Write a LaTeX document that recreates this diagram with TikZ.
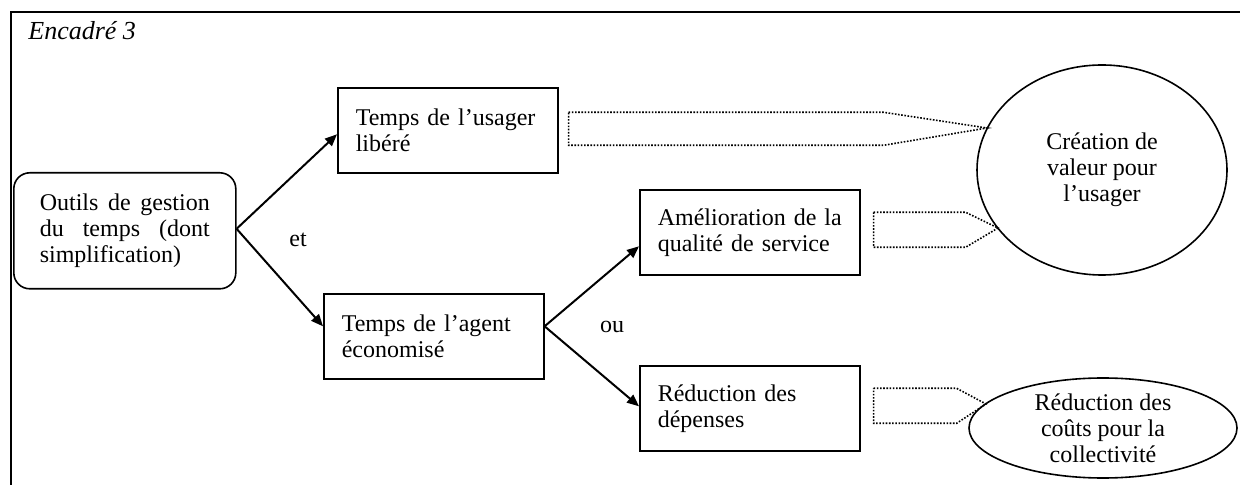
\documentclass[tikz,border=0pt]{standalone}
\usepackage{fontspec}
\setmainfont{Liberation Serif}
\usetikzlibrary{shapes.geometric, arrows.meta, positioning, calc}
\tikzstyle{arrow} = [line width=1pt,-{Triangle[length=6pt,width=5pt]}]
\tikzstyle{box} = [rectangle, draw=black, line width=0.8pt, text width=92pt, inner xsep=9pt, minimum height=42.5pt, align=left]
\tikzstyle{toolbox} = [rectangle, rounded corners=8pt, draw=black, line width=0.8pt, text width=85pt, inner xsep=13pt, minimum height=58pt, align=justify]
\tikzstyle{goal} = [ellipse, draw=black, line width=0.8pt, align=center, inner sep=0pt]
\tikzstyle{hollow} = [line width=0.8pt, dash pattern=on 0.8pt off 0.8pt]

\begin{document}
\begin{tikzpicture}[x=0.5pt, y=-0.5pt, font={\fontsize{12pt}{13pt}\selectfont}]
    \useasboundingbox (0,0) rectangle (1240,485);
    % Frame
    \draw[line width=1pt] (1240,12) -- (11,12) -- (11,485);
    \node[anchor=west, inner sep=0pt, font={\fontsize{13pt}{14pt}\selectfont\itshape}] (title) at (28,31) {Encadré 3};

    % Boxes
    \node[toolbox, anchor=north west] (outils) at (13,172) {\hyphenpenalty=10000 Outils de gestion du temps (dont simplification)};
    \node[box, anchor=north west] (usager) at (337,87) {Temps de l’usager\\libéré};
    \node[box, anchor=north west] (agent) at (323,293) {Temps de l’agent\\économisé};
    \node[box, anchor=north west] (qualite) at (639,189) {Amélioration de la\\qualité de service};
    \node[box, anchor=north west] (depenses) at (639,365) {Réduction des\\dépenses};

    % Results
    \node[goal, minimum width=125pt, minimum height=105pt] (creation) at (1102,170) {Création de\\valeur pour\\l’usager};
    \node[goal, minimum width=134pt, minimum height=50pt, inner ysep=-5pt] (collect) at (1103,428) {Réduction des\\coûts pour la\\collectivité};

    \node (et) at (298,240) {et};
    \node (ou) at (612,327) {ou};

    % Links
    \draw[arrow] ([yshift=1pt]outils.east) -- ([yshift=-2pt]usager.west);
    \draw[arrow] ([yshift=1pt]outils.east) -- ([yshift=5pt]agent.west);
    \draw[arrow] ([yshift=5pt]agent.east) -- ([yshift=-7pt]qualite.west);
    \draw[arrow] ([yshift=5pt]agent.east) -- ([yshift=1pt]depenses.west);

    % Hollow arrows
    \coordinate (tipA) at ($(creation)+(-115,-42)$);
    \coordinate (tipB) at ($(creation)+(-104,58)$);
    \coordinate (tipC) at ($(collect)+(-117,-24)$);
    \draw[hollow] ($(usager.east)+(10,-18)$) -- ++(315,0) -- (tipA) -- ($(usager.east)+(325,15)$) -- ++(-315,0) -- cycle;
    \draw[hollow] ($(qualite.east)+(13,-20)$) -- ++(92,0) -- (tipB) -- ($(qualite.east)+(105,15)$) -- ++(-92,0) -- cycle;
    \draw[hollow] ($(depenses.east)+(13,-20)$) -- ++(83,0) -- (tipC) -- ($(depenses.east)+(96,15)$) -- ++(-83,0) -- cycle;
\end{tikzpicture}
\end{document}
